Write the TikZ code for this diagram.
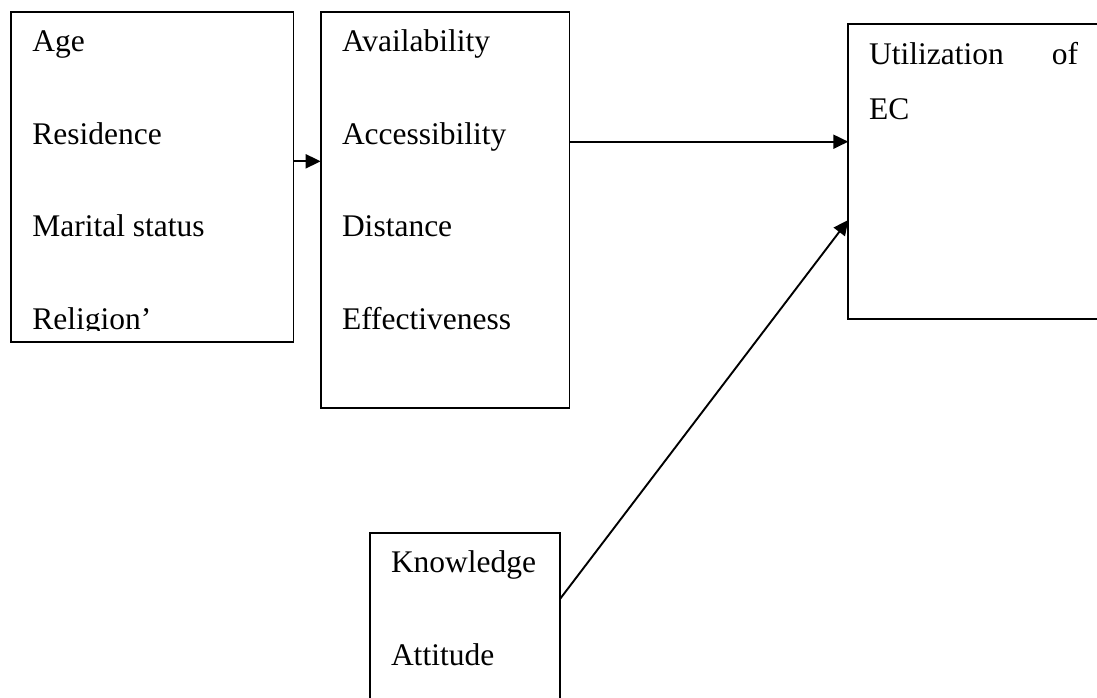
\documentclass[tikz,border=0pt]{standalone}
\usepackage{fontspec}
\setmainfont{Liberation Serif}
\usetikzlibrary{arrows.meta}
\tikzset{
  box/.style={draw=black, line width=1.8pt, rectangle, anchor=north west, inner sep=0pt, outer sep=0pt},
  txt/.style={inner sep=0pt, outer sep=0pt, anchor=base west, font=\fontsize{31.5}{36}\selectfont},
  arr/.style={line width=1.9pt, -{Triangle[length=15pt,width=14pt]}},
}
\begin{document}
\begin{tikzpicture}[x=1pt,y=-1pt]
\useasboundingbox (0,0) rectangle (1097,697);
\begin{scope}
\clip (0,0) rectangle (1097,697);
% boxes
\node[box, minimum width=282.5pt, minimum height=330pt] (b1) at (11,12) {};
\node[box, minimum width=248.8pt, minimum height=396pt] (b2) at (320.7,12) {};
\node[box, minimum width=280pt, minimum height=295pt] (b3) at (848.3,24) {};
\node[box, minimum width=190pt, minimum height=200pt] (b4) at (370,533.3) {};
% box 1 text
\node[txt] (t11) at (32.3,51.5) {Age};
\node[txt] (t12) at (32.3,144.7) {Residence};
\node[txt] (t13) at (32.3,236.5) {Marital status};
\begin{scope}
\clip (11,300) rectangle (293,330.5);
\node[txt] (t14) at (32.3,329) {Religion’};
\end{scope}
% box 2 text
\node[txt] (t21) at (342,51.5) {Availability};
\node[txt] (t22) at (342,144.5) {Accessibility};
\node[txt] (t23) at (342,236.5) {Distance};
\node[txt] (t24) at (342,329.5) {Effectiveness};
% box 3 text
\node[txt] (t31) at (869,64) {\makebox[209pt][s]{Utilization of}};
\node[txt] (t32) at (869,119.3) {EC};
% box 4 text
\node[txt] (t41) at (391,572.7) {Knowledge};
\node[txt] (t42) at (391,665.7) {Attitude};
% connectors
\draw[arr] ([yshift=-149.3pt]b1.north east) -- ([yshift=-149.3pt]b2.north west);
\draw[arr] ([yshift=-129.7pt]b2.north east) -- ([yshift=-117.7pt]b3.north west);
\draw[arr] ([yshift=-65.7pt]b4.north east) -- ([yshift=-196pt]b3.north west);
\end{scope}
\end{tikzpicture}
\end{document}
